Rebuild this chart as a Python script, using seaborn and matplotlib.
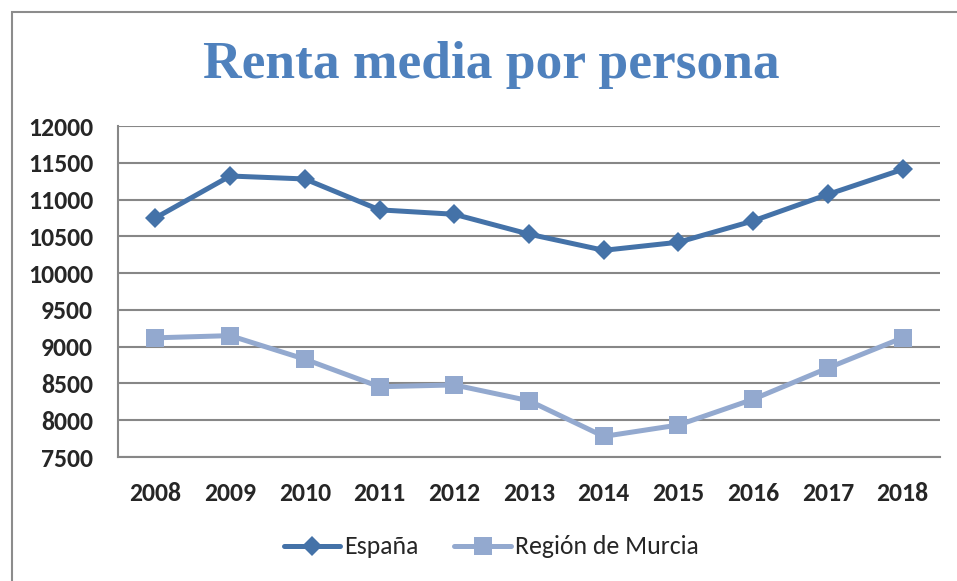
import numpy as np
import pandas as pd
import matplotlib
matplotlib.use('Agg')
import matplotlib.pyplot as plt
import seaborn as sns
from matplotlib.patches import Rectangle

years = [2008, 2009, 2010, 2011, 2012, 2013, 2014, 2015, 2016, 2017, 2018]
espana = [10750, 11320, 11280, 10860, 10800, 10530, 10310, 10420, 10710, 11070, 11410]
murcia = [9120, 9150, 8830, 8455, 8480, 8265, 7780, 7935, 8285, 8710, 9120]
y_ticks = [7500, 8000, 8500, 9000, 9500, 10000, 10500, 11000, 11500, 12000]

col_es = '#4472A8'
col_mu = '#93A9CF'

sns.set_style('white')
plt.rcParams['font.family'] = ['Carlito', 'Lato', 'DejaVu Sans']

fig = plt.figure(figsize=(9.57, 5.81), dpi=100)
ax = fig.add_axes([118 / 957, 1 - 457 / 581, (940 - 118) / 957, (457 - 126) / 581])

sns.lineplot(x=years, y=espana, ax=ax, color=col_es, linewidth=3.6,
             marker='D', markersize=10.5, markeredgewidth=0, label='España')
sns.lineplot(x=years, y=murcia, ax=ax, color=col_mu, linewidth=3.6,
             marker='s', markersize=13.5, markeredgewidth=0, label='Región de Murcia')

ax.set_xlim(2007.5, 2018.5)
ax.set_ylim(7500, 12000)
ax.set_yticks(y_ticks)
ax.set_xticks(years)
ax.set_xticklabels([str(y) for y in years])
ax.grid(axis='y', color='#878787', linewidth=1.5)
ax.set_axisbelow(True)
for side in ['top', 'right']:
    ax.spines[side].set_visible(False)
ax.spines['left'].set_color('#878787')
ax.spines['left'].set_linewidth(1.5)
ax.spines['bottom'].set_color('#878787')
ax.spines['bottom'].set_linewidth(1.5)
ax.tick_params(axis='both', length=0, labelsize=18.5)
ax.tick_params(axis='y', pad=18)
ax.tick_params(axis='x', pad=18)
for lbl in ax.get_xticklabels() + ax.get_yticklabels():
    lbl.set_fontweight('bold')

fig.text(491 / 957, 1 - 65 / 581, 'Renta media por persona', ha='center', va='center',
         fontsize=38.5, fontweight='bold', color='#4F81BD', family='Liberation Serif')

ax.legend(loc='center', bbox_to_anchor=(491 / 957, 1 - 547 / 581),
          bbox_transform=fig.transFigure, ncol=2, frameon=False, fontsize=18.5,
          handlelength=2.2, columnspacing=1.4, handletextpad=0.15)

fig.patches.append(Rectangle((12 / 957, -0.1), 1.0, 1 - 12 / 581 + 0.1,
                             transform=fig.transFigure, fill=False,
                             edgecolor='#8C8C8C', linewidth=1.5))

fig.savefig('out.png', dpi=100)
